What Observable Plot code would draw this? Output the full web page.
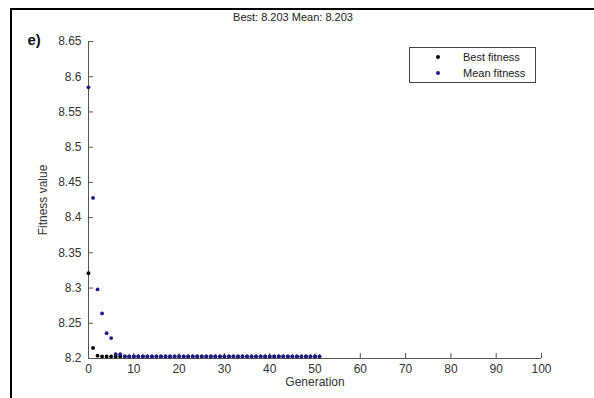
<!DOCTYPE html>
<html>
<head>
<meta charset="utf-8">
<script src="https://cdn.jsdelivr.net/npm/d3@7"></script>
<script src="https://cdn.jsdelivr.net/npm/@observablehq/plot@0.6"></script>
<style>
  body { margin: 0; background: #fff; }
  #wrap { position: relative; width: 594px; height: 398px; overflow: hidden; background: #fff; }
  #frame { position: absolute; left: 10px; top: 8px; width: 600px; height: 400px;
           border-top: 2px solid #000; border-left: 2px solid #000; pointer-events: none; }
  #legend { position: absolute; left: 409px; top: 47px; width: 125px; height: 34px;
            border: 1px solid #444; background: #fff;
            font: 11px "Liberation Sans", Arial, sans-serif; color: #222; }
  #legend .row { position: absolute; left: 0; height: 14px; line-height: 14px; }
  #legend .dot { position: absolute; left: 26px; top: 5px; width: 4px; height: 4px; border-radius: 2px; }
  #legend .lab { position: absolute; left: 53px; white-space: nowrap; }
</style>
</head>
<body>
<div id="wrap">
  <div id="chart"></div>
  <div id="legend"></div>
  <div id="frame"></div>
</div>
<script>
const generations = [0,1,2,3,4,5,6,7,8,9,10,11,12,13,14,15,16,17,18,19,20,21,22,23,24,25,26,27,28,29,30,31,32,33,34,35,36,37,38,39,40,41,42,43,44,45,46,47,48,49,50,51];
const bestFitness = [8.321,8.215,8.204,8.203,8.203,8.203,8.203,8.203,8.203,8.203,8.203,8.203,8.203,8.203,8.203,8.203,8.203,8.203,8.203,8.203,8.203,8.203,8.203,8.203,8.203,8.203,8.203,8.203,8.203,8.203,8.203,8.203,8.203,8.203,8.203,8.203,8.203,8.203,8.203,8.203,8.203,8.203,8.203,8.203,8.203,8.203,8.203,8.203,8.203,8.203,8.203,8.203];
const meanFitness = [8.585,8.428,8.298,8.264,8.236,8.229,8.206,8.206,8.203,8.203,8.203,8.203,8.203,8.203,8.203,8.203,8.203,8.203,8.203,8.203,8.203,8.203,8.203,8.203,8.203,8.203,8.203,8.203,8.203,8.203,8.203,8.203,8.203,8.203,8.203,8.203,8.203,8.203,8.203,8.203,8.203,8.203,8.203,8.203,8.203,8.203,8.203,8.203,8.203,8.203,8.203,8.203];
const xTicks = [0,10,20,30,40,50,60,70,80,90,100];
const yTicks = [8.2,8.25,8.3,8.35,8.4,8.45,8.5,8.55,8.6,8.65];
const seriesNames = ["Best fitness", "Mean fitness"];
const seriesColors = ["#000000", "#1c1c8c"];
const titleText = "Best: 8.203 Mean: 8.203";
const panelLabel = "e)";

const bestData = generations.map((g, i) => ({g, v: bestFitness[i]}));
const meanData = generations.map((g, i) => ({g, v: meanFitness[i]}));

const chart = Plot.plot({
  width: 594,
  height: 398,
  marginLeft: 88,
  marginRight: 53,
  marginTop: 41,
  marginBottom: 40,
  style: { fontFamily: '"Liberation Sans", Arial, sans-serif', fontSize: "12px", color: "#333", background: "transparent" },
  x: { domain: [0, 100] },
  y: { domain: [8.2, 8.65] },
  marks: [
    Plot.ruleX([0], { stroke: "#555" }),
    Plot.ruleY([8.2], { stroke: "#555" }),
    Plot.tickY(yTicks, { y: d => d, insetRight: 448, stroke: "#555" }),
    Plot.tickX(xTicks, { x: d => d, insetTop: 312, stroke: "#555" }),
    Plot.axisY(yTicks, { anchor: "left", tickSize: 0, tickPadding: 7, tickFormat: d => String(d), label: "Fitness value", labelAnchor: "center", labelOffset: 50, labelArrow: "none", fill: "#333" }),
    Plot.axisX(xTicks, { anchor: "bottom", tickSize: 0, tickPadding: 6, tickFormat: d => String(d), label: "Generation", labelAnchor: "center", labelOffset: 27, labelArrow: "none", fill: "#333" }),
    Plot.dot(bestData, { x: "g", y: "v", r: 1.9, fill: seriesColors[0], stroke: null }),
    Plot.dot(meanData, { x: "g", y: "v", r: 1.9, fill: seriesColors[1], stroke: null }),
    Plot.text([titleText], { frameAnchor: "top", dx: -22, dy: -28, fontSize: 11, fill: "#222", text: d => d }),
    Plot.text([panelLabel], { frameAnchor: "top-left", textAnchor: "start", dx: -61, dy: -7, fontSize: 15, fontWeight: "bold", fill: "#111", text: d => d })
  ]
});
document.getElementById("chart").appendChild(chart);

const legend = document.getElementById("legend");
seriesNames.forEach((name, i) => {
  const row = document.createElement("div");
  row.className = "row";
  row.style.top = (2 + i * 16) + "px";
  row.style.width = "125px";
  row.innerHTML = `<span class="dot" style="background:${seriesColors[i]}"></span><span class="lab">${name}</span>`;
  legend.appendChild(row);
});
</script>
</body>
</html>
